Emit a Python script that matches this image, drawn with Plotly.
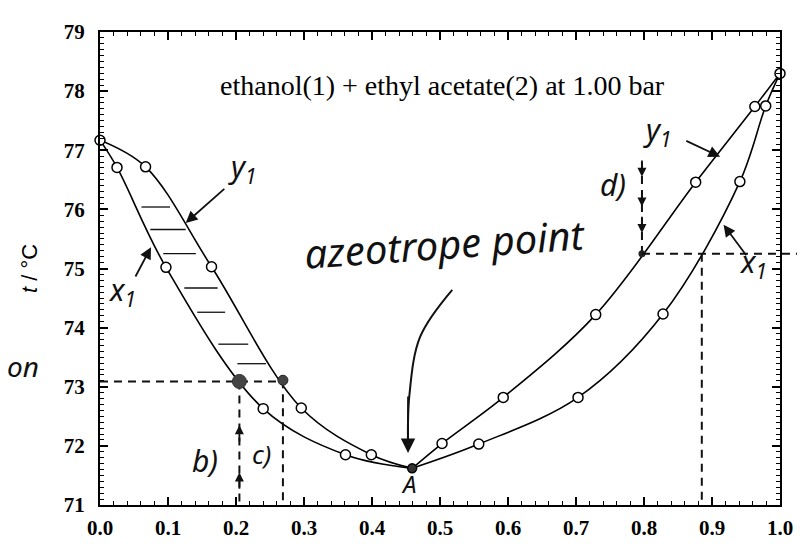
import plotly.graph_objects as go

# ---------------- data ----------------
# left branch (ethanol-lean side of the azeotrope)
left_x1 = [0.0, 0.025, 0.097, 0.240, 0.361, 0.459]
left_t_x1 = [77.17, 76.71, 75.02, 72.63, 71.85, 71.62]
left_y1 = [0.0, 0.067, 0.164, 0.296, 0.399, 0.459]
left_t_y1 = [77.17, 76.72, 75.03, 72.64, 71.85, 71.62]
# right branch (ethanol-rich side)
right_y1 = [0.459, 0.503, 0.593, 0.729, 0.876, 0.963, 1.0]
right_t_y1 = [71.62, 72.04, 72.82, 74.22, 76.46, 77.74, 78.30]
right_x1 = [0.459, 0.557, 0.703, 0.828, 0.941, 0.979, 1.0]
right_t_x1 = [71.62, 72.03, 72.82, 74.23, 76.47, 77.75, 78.30]

azeo_x = [0.459]
azeo_t = [71.62]

# hand-marked points
b_x, b_t = [0.205], [73.09]
c_x, c_t = [0.269], [73.11]
d_x, d_t = [0.797], [75.25]
e_x = [0.885]

# hand-drawn hatch (tie) lines between the curves
hatch_t = [76.04, 75.66, 75.25, 74.67, 74.26, 73.72, 73.39]
hatch_x0 = [0.061, 0.074, 0.093, 0.124, 0.143, 0.174, 0.202]
hatch_x1 = [0.103, 0.126, 0.141, 0.173, 0.184, 0.218, 0.244]

# curved arrow to azeotrope
azarrow_x = [0.518, 0.471, 0.455, 0.453]
azarrow_t = [74.64, 73.85, 72.86, 71.95]

x_ticks = [0.0, 0.1, 0.2, 0.3, 0.4, 0.5, 0.6, 0.7, 0.8, 0.9, 1.0]
x_ticklabels = ["0.0", "0.1", "0.2", "0.3", "0.4", "0.5", "0.6", "0.7", "0.8", "0.9", "1.0"]
y_ticks = [71, 72, 73, 74, 75, 76, 77, 78, 79]

title_text = "ethanol(1) + ethyl acetate(2) at 1.00 bar"

INK = "#111111"
HAND = dict(family="Noto Sans", size=26, color=INK, style="italic")

fig = go.Figure()

# curves
for xs, ts in [(left_x1, left_t_x1), (left_y1, left_t_y1),
               (right_y1, right_t_y1), (right_x1, right_t_x1)]:
    fig.add_trace(go.Scatter(x=xs, y=ts, mode="lines",
                             line=dict(color="black", width=1.6, shape="spline", smoothing=1.0),
                             hoverinfo="skip", showlegend=False))

# hatch lines
hx, ht = [], []
for a, b, t in zip(hatch_x0, hatch_x1, hatch_t):
    hx += [a, b, None]
    ht += [t, t, None]
fig.add_trace(go.Scatter(x=hx, y=ht, mode="lines", line=dict(color=INK, width=1.3),
                         hoverinfo="skip", showlegend=False))

# dashed guide lines
dash = dict(color=INK, width=2, dash="8px,6px")
fig.add_trace(go.Scatter(x=[0.0, c_x[0]], y=[b_t[0], b_t[0]], mode="lines", line=dash, showlegend=False))
fig.add_trace(go.Scatter(x=[b_x[0], b_x[0]], y=[b_t[0], 71.0], mode="lines", line=dash, showlegend=False))
fig.add_trace(go.Scatter(x=[c_x[0], c_x[0]], y=[c_t[0], 71.0], mode="lines", line=dash, showlegend=False))
fig.add_trace(go.Scatter(x=[d_x[0], d_x[0]], y=[76.8, d_t[0]], mode="lines", line=dash, showlegend=False))
fig.add_trace(go.Scatter(x=[e_x[0], e_x[0]], y=[d_t[0], 71.0], mode="lines", line=dash, showlegend=False))
fig.add_shape(type="line", xref="paper", yref="y", x0=d_x[0], x1=1.04, y0=d_t[0], y1=d_t[0],
              line=dash)

# curved arrow shaft
fig.add_trace(go.Scatter(x=azarrow_x, y=azarrow_t, mode="lines",
                         line=dict(color=INK, width=2, shape="spline"), showlegend=False))

# open circle markers (excluding azeotrope)
mx, mt = [], []
for xs, ts in [(left_x1, left_t_x1), (left_y1[1:], left_t_y1[1:]),
               (right_y1, right_t_y1), (right_x1[:-1], right_t_x1[:-1])]:
    for x, t in zip(xs, ts):
        if x != azeo_x[0]:
            mx.append(x)
            mt.append(t)
fig.add_trace(go.Scatter(x=mx, y=mt, mode="markers", cliponaxis=False,
                         marker=dict(symbol="circle", size=10, color="white",
                                     line=dict(color="black", width=1.5)),
                         showlegend=False))

# azeotrope marker
fig.add_trace(go.Scatter(x=azeo_x, y=azeo_t, mode="markers", cliponaxis=False,
                         marker=dict(symbol="circle", size=9, color="#333333",
                                     line=dict(color="black", width=1.5)), showlegend=False))
# hand-marked points
fig.add_trace(go.Scatter(x=b_x, y=b_t, mode="markers",
                         marker=dict(size=14, color="#444444", line=dict(color="#333", width=1)),
                         showlegend=False))
fig.add_trace(go.Scatter(x=c_x, y=c_t, mode="markers",
                         marker=dict(size=10, color="#444444", line=dict(color="#222", width=1)),
                         showlegend=False))
fig.add_trace(go.Scatter(x=d_x, y=d_t, mode="markers",
                         marker=dict(size=7, color="#222222"), showlegend=False))

ann = []
# title
ann.append(dict(x=0.503, y=78.1, xref="x", yref="y", text=title_text, showarrow=False,
                font=dict(family="Liberation Serif", size=28, color="black")))
# arrows helper
def arrow(hx_, ht_, tx_, tt_, size=1.3):
    return dict(x=hx_, y=ht_, ax=tx_, ay=tt_, xref="x", yref="y", axref="x", ayref="y",
                text="", showarrow=True, arrowhead=2, arrowsize=size, arrowwidth=1.8,
                arrowcolor=INK)

ann.append(arrow(0.126, 75.77, 0.185, 76.37))          # y1 left
ann.append(arrow(0.075, 75.36, 0.051, 74.84))          # x1 left
ann.append(arrow(0.912, 76.89, 0.860, 77.17))          # y1 right
ann.append(arrow(0.917, 75.74, 0.952, 75.20))          # x1 right
ann.append(arrow(azarrow_x[-1], 71.88, azarrow_x[-1], azarrow_t[-2], size=1.6))  # azeotrope head
# small up arrows on b) guide
ann.append(arrow(b_x[0], 72.35, b_x[0], 72.05, size=1.0))
ann.append(arrow(b_x[0], 71.55, b_x[0], 71.25, size=1.0))
# small down arrows on d) guide
ann.append(arrow(d_x[0], 76.55, d_x[0], 76.85, size=1.0))
ann.append(arrow(d_x[0], 76.05, d_x[0], 76.35, size=1.0))
ann.append(arrow(d_x[0], 75.60, d_x[0], 75.90, size=1.0))

# handwritten labels
def label(x, t, s, size=26, angle=0):
    f = dict(HAND)
    f["size"] = size
    return dict(x=x, y=t, xref="x", yref="y", text=s, showarrow=False, font=f, textangle=angle)

ann.append(label(0.210, 76.7, "y<sub>1</sub>", size=30))
ann.append(label(0.032, 74.62, "x<sub>1</sub>", size=30))
ann.append(label(0.820, 77.33, "y<sub>1</sub>", size=30))
ann.append(label(0.960, 75.1, "x<sub>1</sub>", size=30))
ann.append(label(0.508, 75.42, "azeotrope point", size=40, angle=-4))
ann.append(label(0.455, 71.36, "A", size=24))
ann.append(label(0.155, 71.75, "b)", size=30))
ann.append(label(0.238, 71.87, "c)", size=26))
ann.append(label(0.755, 76.42, "d)", size=30))
ann.append(dict(x=-0.113, y=73.35, xref="paper", yref="y", xanchor="center", text="on",
                showarrow=False,
                font=dict(family="Noto Sans", size=28, color=INK, style="italic")))

fig.update_layout(
    width=805, height=544,
    margin=dict(l=92, r=33, t=18, b=39),
    paper_bgcolor="white", plot_bgcolor="white",
    annotations=ann, showlegend=False,
    xaxis=dict(range=[0, 1.0], tickvals=x_ticks, ticktext=x_ticklabels,
               showgrid=False, zeroline=False, showline=True, linecolor="black", linewidth=2,
               mirror="allticks", ticks="inside", ticklen=8, tickwidth=1.5, tickcolor="black",
               minor=dict(ticks="inside", dtick=0.02, ticklen=4, tickwidth=1.2, tickcolor="black"),
               tickfont=dict(family="Liberation Serif", size=21, color="black", weight="bold"),
               ticklabelstandoff=3),
    yaxis=dict(range=[71, 79], tickvals=y_ticks,
               showgrid=False, zeroline=False, showline=True, linecolor="black", linewidth=2,
               mirror="allticks", ticks="inside", ticklen=8, tickwidth=1.5, tickcolor="black",
               minor=dict(ticks="inside", dtick=0.1, ticklen=4, tickwidth=1.2, tickcolor="black"),
               tickfont=dict(family="Liberation Serif", size=21, color="black", weight="bold"),
               ticklabelstandoff=9,
               title=dict(text="<i>t</i> / °C", standoff=20,
                          font=dict(family="Liberation Sans", size=22, color="black"))),
)

fig.write_html("out.html")
